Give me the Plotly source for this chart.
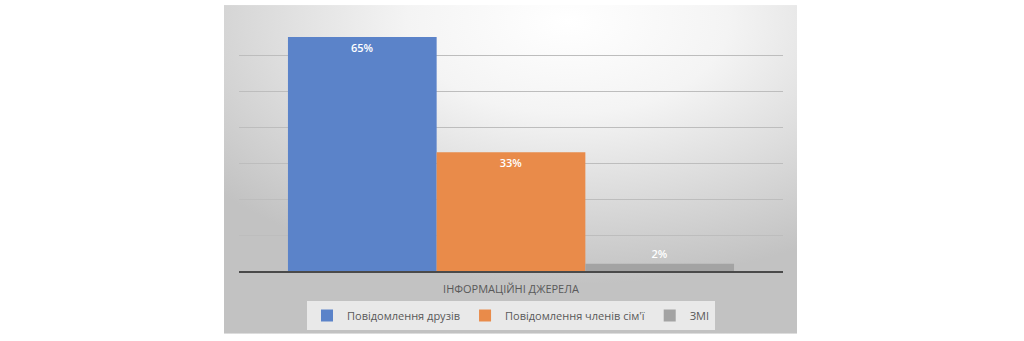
import base64
import plotly.graph_objects as go

category = ["ІНФОРМАЦІЙНІ ДЖЕРЕЛА"]
series_names = ["Повідомлення друзів", "Повідомлення членів сім'ї", "ЗМІ"]
series_values = [65, 33, 2]
series_colors = ["#5b83c9", "#e98b4a", "#a3a3a3"]
label_positions = ["inside", "inside", "outside"]

FONT = "Open Sans"

fig = go.Figure()
for name, val, col, pos in zip(series_names, series_values, series_colors, label_positions):
    fig.add_trace(go.Bar(
        x=category, y=[val], name=name,
        marker=dict(color=col, line=dict(width=0)),
        text=[val], texttemplate="%{text}%",
        textposition=pos, insidetextanchor="end",
        textfont=dict(color="white", size=11, family=FONT, weight=600),
        outsidetextfont=dict(color="white", size=11, family=FONT, weight=600),
        cliponaxis=False,
    ))

svg = (
    '<svg xmlns="http://www.w3.org/2000/svg" width="573" height="330" preserveAspectRatio="none">'
    '<defs><radialGradient id="g" cx="0.6" cy="0.05" r="0.8" fx="0.6" fy="0.05">'
    '<stop offset="0" stop-color="#ffffff"/>'
    '<stop offset="0.35" stop-color="#f4f4f4"/>'
    '<stop offset="1" stop-color="#c2c2c2"/>'
    '</radialGradient></defs>'
    '<rect width="573" height="330" fill="url(#g)"/></svg>'
)
src = "data:image/svg+xml;base64," + base64.b64encode(svg.encode()).decode()

W, H = 1024, 341
L, R, T, B = 239, 241, 19, 69
pw, ph = W - L - R, H - T - B

def px_x(p):
    return (p - L) / pw

def px_y(p):
    return (H - B - p) / ph

fig.add_layout_image(dict(
    source=src, xref="paper", yref="paper",
    x=px_x(224), y=px_y(5), sizex=px_x(797) - px_x(224), sizey=px_y(5) - px_y(335),
    xanchor="left", yanchor="top", sizing="stretch", layer="below",
))

fig.update_layout(
    width=W, height=H,
    margin=dict(l=L, r=R, t=T, b=B, pad=0),
    paper_bgcolor="white",
    plot_bgcolor="rgba(0,0,0,0)",
    barmode="group", bargap=0.18, bargroupgap=0,
    showlegend=True,
    legend=dict(
        orientation="h", x=0.5, xanchor="center", y=px_y(315.5), yanchor="middle",
        bgcolor="rgba(245,245,245,0.75)",
        font=dict(family=FONT, size=11, color="#595959"),
        itemwidth=30, traceorder="normal",
        tracegroupgap=0,
    ),
    font=dict(family=FONT, color="#595959"),
)
fig.update_xaxes(
    showline=True, linecolor="#4a4a4a", linewidth=1.5,
    showgrid=False, ticks="", ticklen=0, ticklabelstandoff=7,
    tickfont=dict(family=FONT, size=11, color="#595959"),
)
fig.update_yaxes(
    range=[0, 70], dtick=10, showgrid=True, gridcolor="#bdbdbd", gridwidth=1,
    zeroline=False, showticklabels=False, ticks="",
)

fig.write_html("out.html")
